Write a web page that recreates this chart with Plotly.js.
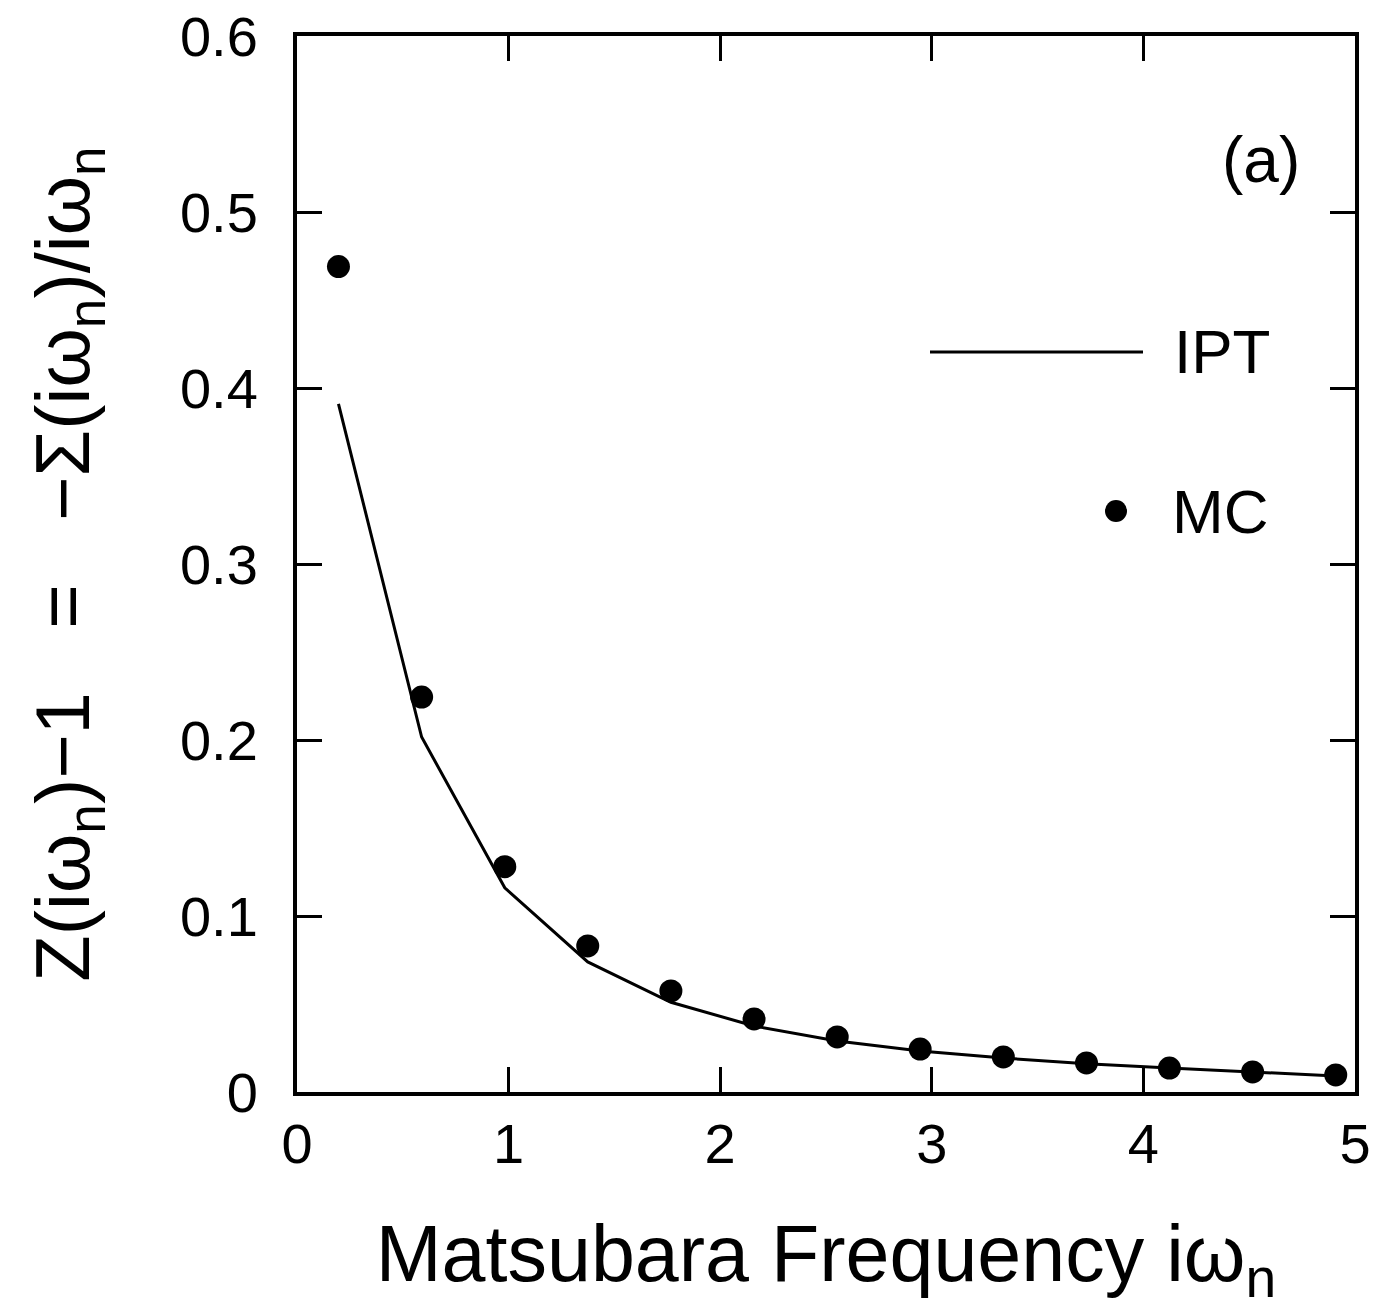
<!DOCTYPE html>
<html><head><meta charset="utf-8">
<script src="https://cdn.plot.ly/plotly-3.0.1.min.js"></script>
<style>body{margin:0;background:#fff}</style>
</head><body>
<div id="chart" style="width:1377px;height:1313px"></div>
<script>
// Matsubara frequencies
const omegaN = [0.196, 0.589, 0.982, 1.374, 1.767, 2.160, 2.553, 2.945, 3.338, 3.731, 4.123, 4.516, 4.909];
// MC points
const mcValues = [0.469, 0.2244, 0.128, 0.083, 0.0574, 0.0415, 0.0313, 0.0244, 0.0199, 0.0165, 0.0136, 0.0114, 0.0097];
// IPT curve
const iptValues = [0.391, 0.2017, 0.116, 0.0739, 0.051, 0.0375, 0.029, 0.0233, 0.0193, 0.016, 0.0136, 0.0114, 0.0091];
const xTicks = [0, 1, 2, 3, 4, 5];
const yTicks = [0, 0.1, 0.2, 0.3, 0.4, 0.5, 0.6];
const yTickLabels = ['0', '0.1', '0.2', '0.3', '0.4', '0.5', '0.6'];

const FONT = '"Liberation Sans", Arial, sans-serif';

const traces = [
  {x: omegaN, y: iptValues, mode: 'lines', name: 'IPT', line: {color: '#000', width: 3}},
  {x: omegaN, y: mcValues, mode: 'markers', name: 'MC', marker: {color: '#000', size: 23}}
];

const axisCommon = {
  showline: true, linecolor: '#000', linewidth: 4, mirror: 'ticks',
  ticks: 'inside', ticklen: 25, tickwidth: 3, tickcolor: '#000',
  showgrid: false, zeroline: false,
  tickfont: {family: FONT, size: 56, color: '#000'}
};

const layout = {
  width: 1377, height: 1313,
  margin: {l: 297, r: 22, t: 36, b: 221},
  paper_bgcolor: '#fff', plot_bgcolor: '#fff',
  showlegend: false,
  xaxis: Object.assign({}, axisCommon, {
    range: [0, 5], tickvals: xTicks, ticktext: xTicks.map(String),
    title: {text: 'Matsubara Frequency iω<sub>n</sub>', font: {family: FONT, size: 79, color: '#000'}, standoff: 52}
  }),
  yaxis: Object.assign({}, axisCommon, {
    range: [0, 0.6], tickvals: yTicks, ticktext: yTickLabels, ticklabelstandoff: 24,
    title: {text: 'Z(iω<sub>n</sub>)−1\u00a0\u00a0\u00a0=\u00a0\u00a0\u00a0−Σ(iω<sub>n</sub>)/iω<sub>n</sub>', font: {family: FONT, size: 76, color: '#000'}, standoff: 66}
  }),
  shapes: [
    {type: 'line', xref: 'paper', yref: 'paper', x0: (930-297)/1058, x1: (1143-297)/1058, y0: (1092-352)/1056, y1: (1092-352)/1056, line: {color: '#000', width: 3}},
    {type: 'circle', xref: 'paper', yref: 'paper', x0: (1105-297)/1058, x1: (1127-297)/1058, y0: (1092-522)/1056, y1: (1092-500)/1056, fillcolor: '#000', line: {color: '#000', width: 0}}
  ],
  annotations: [
    {xref: 'paper', yref: 'paper', x: (1172-297)/1058, y: (1092-352)/1056, xanchor: 'left', yanchor: 'middle', text: 'IPT', showarrow: false, font: {family: FONT, size: 62, color: '#000'}},
    {xref: 'paper', yref: 'paper', x: (1170-297)/1058, y: (1092-511)/1056, xanchor: 'left', yanchor: 'middle', text: 'MC', showarrow: false, font: {family: FONT, size: 62, color: '#000'}},
    {xref: 'paper', yref: 'paper', x: (1220-297)/1058, y: (1092-160)/1056, xanchor: 'left', yanchor: 'middle', text: '(a)', showarrow: false, font: {family: FONT, size: 64, color: '#000'}}
  ]
};

Plotly.newPlot('chart', traces, layout, {displayModeBar: false, staticPlot: true});
</script>
</body></html>
